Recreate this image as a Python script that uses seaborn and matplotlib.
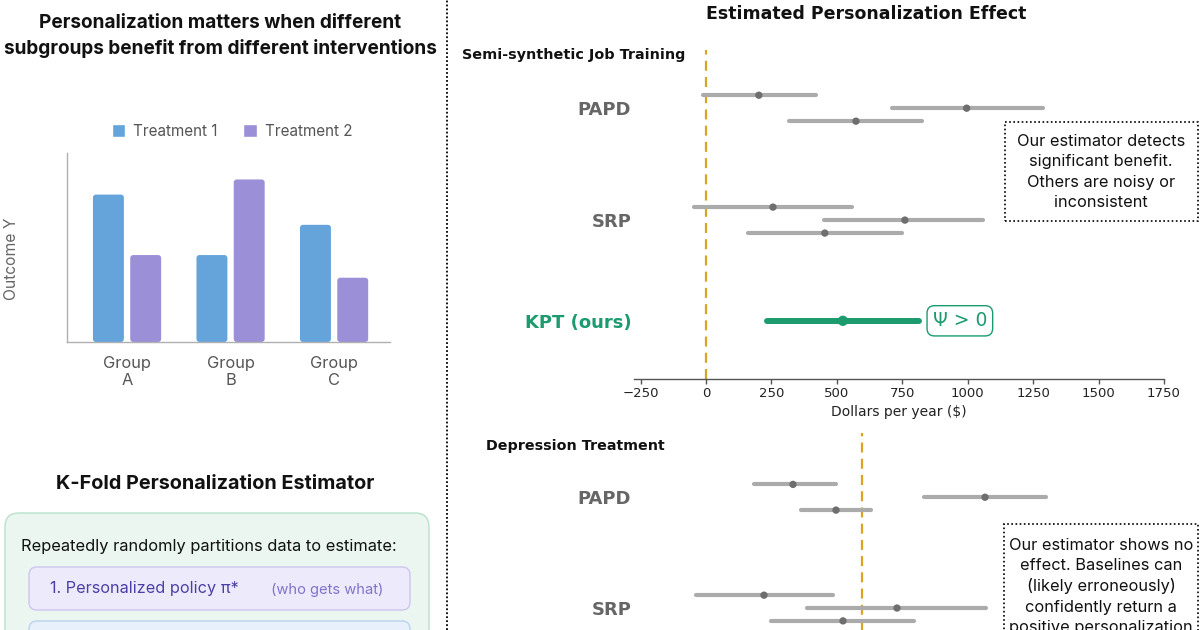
import numpy as np
import pandas as pd
import seaborn as sns
import matplotlib.pyplot as plt
from matplotlib.patches import FancyBboxPatch, Rectangle
from matplotlib.lines import Line2D

# left panel: toy outcome per subgroup
groups = ["Group\nA", "Group\nB", "Group\nC"]
treatments = ["Treatment 1", "Treatment 2"]
outcome_t1 = [7.8, 4.6, 6.2]
outcome_t2 = [4.6, 8.6, 3.4]

methods = ["PAPD", "SRP", "KPT (ours)"]

# semi-synthetic job training, dollars per year (3 runs per baseline)
job_papd_lo = [-10, 710, 317]
job_papd_est = [202, 996, 573]
job_papd_hi = [420, 1286, 824]
job_srp_lo = [-46, 450, 160]
job_srp_est = [256, 760, 454]
job_srp_hi = [557, 1057, 748]
job_kpt_lo = [233]
job_kpt_est = [523]
job_kpt_hi = [813]

# depression treatment (effect units), only the baselines are in view
dep_papd_lo = [-1.08, 0.62, -0.61]
dep_papd_est = [-0.69, 1.23, -0.26]
dep_papd_hi = [-0.26, 1.84, 0.09]
dep_srp_lo = [-1.66, -0.55, -0.91]
dep_srp_est = [-0.98, 0.35, -0.19]
dep_srp_hi = [-0.29, 1.24, 0.52]

BLUE = "#65A4DB"
PURPLE = "#9B8FD8"
GREEN = "#1B9B6E"
GRAY_LINE = "#ABABAB"
GRAY_DOT = "#6E6E6E"
GOLD = "#D9A520"

sns.set_theme(style="white")
plt.rcParams["font.family"] = ["DejaVu Sans"]

fig = plt.figure(figsize=(12, 6.3), dpi=100)

# background axes in pixel coords for the decorative boxes
ax_bg = fig.add_axes([0, 0, 1, 1], zorder=-1)
ax_bg.set_xlim(0, 1200)
ax_bg.set_ylim(630, 0)
ax_bg.axis("off")

# ---- bar chart
bar_df = pd.DataFrame({
    "group": groups * 2,
    "treatment": [treatments[0]] * 3 + [treatments[1]] * 3,
    "outcome": outcome_t1 + outcome_t2,
})
ax_bar = fig.add_axes([67 / 1200, 1 - 342 / 630, 323 / 1200, 189 / 630])
ax_bar.set_facecolor("none")
sns.barplot(data=bar_df, x="group", y="outcome", hue="treatment",
            palette=[BLUE, PURPLE], width=0.72, gap=0.17, saturation=1,
            ax=ax_bar)
ax_bar.set_xlim(-0.58, 2.54)
ax_bar.set_ylim(0, 10)
ax_bar.set_yticks([])
ax_bar.set_xlabel("")
ax_bar.set_ylabel("Outcome Y", family="Inter", fontsize=11.3, color="#666666")
ax_bar.yaxis.set_label_coords(-0.15, 0.44)
sns.despine(ax=ax_bar)
for sp in ["left", "bottom"]:
    ax_bar.spines[sp].set_color("#B0B0B0")
    ax_bar.spines[sp].set_linewidth(1)
ax_bar.tick_params(axis="x", length=0, pad=10, labelsize=11.8, labelcolor="#555555")
for lbl in ax_bar.get_xticklabels():
    lbl.set_family("Inter")
ax_bar.legend(loc="center", bbox_to_anchor=(232 / 1200, 1 - 131 / 630),
              bbox_transform=fig.transFigure, ncol=2, frameon=False,
              prop={"family": "Inter", "size": 11}, labelcolor="#555555",
              handlelength=0.9, handleheight=0.9, handletextpad=0.5,
              columnspacing=1.7)

# swap the square bars for slightly rounded ones (about 3 px radius)
r_x = 3 / 103.5
r_aspect = (3 / 18.9) / r_x
for p in list(ax_bar.patches):
    if p.get_height() <= 0:
        continue
    ax_bar.add_patch(FancyBboxPatch((p.get_x(), p.get_y()), p.get_width(), p.get_height(),
                                    boxstyle=f"round,pad=0,rounding_size={r_x}",
                                    mutation_aspect=r_aspect, fc=p.get_facecolor(),
                                    ec="none", zorder=2))
    p.set_visible(False)

ax_bg.text(220, 36, "Personalization matters when different\nsubgroups benefit from different interventions",
           ha="center", va="center", family="Inter", weight="bold", fontsize=13.7,
           linespacing=1.42, color="#111111")

# ---- K-fold estimator boxes
ax_bg.text(215, 484, "K-Fold Personalization Estimator", ha="center", va="center",
           family="Inter", weight="bold", fontsize=14.3, color="#111111")
ax_bg.add_patch(FancyBboxPatch((5, 513), 424, 200, boxstyle="round,pad=0,rounding_size=14",
                               fc="#EAF6EF", ec="#B9E0CB", lw=1))
ax_bg.text(21, 547, "Repeatedly randomly partitions data to estimate:", va="center",
           family="Inter", fontsize=11.8, color="#111111")
ax_bg.add_patch(FancyBboxPatch((29, 567), 381, 43, boxstyle="round,pad=0,rounding_size=8",
                               fc="#EDEBFB", ec="#CCC6F0", lw=1))
ax_bg.text(50, 589, "1. Personalized policy π*", va="center", family="Inter",
           fontsize=11.7, color="#4B3FA6")
ax_bg.text(271, 590, "(who gets what)", va="center", family="Inter",
           fontsize=10.6, color="#8073CC")
ax_bg.add_patch(FancyBboxPatch((29, 621), 381, 43, boxstyle="round,pad=0,rounding_size=8",
                               fc="#E7F0FB", ec="#BBD3EF", lw=1))

# divider
fig.add_artist(Line2D([447 / 1200] * 2, [0, 1], transform=fig.transFigure,
                      color="black", lw=1.3, ls=(0, (1, 1.2))))


def forest_frame(lo_lists, est_lists, hi_lists):
    rows = []
    centers = [0, 1, 1.9]
    for m, lo, est, hi, c in zip(methods, lo_lists, est_lists, hi_lists, centers):
        n = len(est)
        offs = np.linspace(-0.116, 0.116, n) if n > 1 else [0.0]
        for l, e, h, o in zip(lo, est, hi, offs):
            rows.append({"method": m, "lo": l, "est": e, "hi": h, "row": c + o})
    return pd.DataFrame(rows)


def draw_forest(ax, df):
    base = df[df.method != "KPT (ours)"]
    ours = df[df.method == "KPT (ours)"]
    lc = ax.hlines(base.row, base.lo, base.hi, color=GRAY_LINE, lw=3)
    lc.set_capstyle("round")
    sns.scatterplot(data=base, x="est", y="row", color=GRAY_DOT, s=28,
                    edgecolor="none", ax=ax, zorder=3)
    if len(ours):
        lc2 = ax.hlines(ours.row, ours.lo, ours.hi, color=GREEN, lw=4.3)
        lc2.set_capstyle("round")
        sns.scatterplot(data=ours, x="est", y="row", color=GREEN, s=55,
                        edgecolor="none", ax=ax, zorder=3)
    ax.axvline(0, color=GOLD, lw=1.6, ls=(0, (4.5, 2.8)), zorder=1)
    ax.set_facecolor("none")
    ax.set_xlabel("")
    ax.set_ylabel("")
    shown = list(df.method.unique())
    ax.set_yticks([0, 1, 1.9][:len(shown)])
    ax.set_yticklabels(shown)
    ax.tick_params(axis="y", length=0, pad=2, labelsize=13)
    for lbl, col in zip(ax.get_yticklabels(), ["#666666", "#666666", GREEN]):
        lbl.set_color(col)
        lbl.set_fontweight("bold")
    for sp in ["left", "right", "top"]:
        ax.spines[sp].set_visible(False)


# ---- job training
job_df = forest_frame([job_papd_lo, job_srp_lo, job_kpt_lo],
                      [job_papd_est, job_srp_est, job_kpt_est],
                      [job_papd_hi, job_srp_hi, job_kpt_hi])
ax_job = fig.add_axes([634 / 1200, 1 - 379 / 630, 530 / 1200, 329 / 630])
draw_forest(ax_job, job_df)
ax_job.set_xlim(-275, 1748)
ax_job.set_ylim(2.42, -0.52)
ax_job.set_xticks(range(-250, 1751, 250))
ax_job.spines["bottom"].set_color("#555555")
ax_job.spines["bottom"].set_linewidth(1)
ax_job.tick_params(axis="x", bottom=True, length=3.5, width=1, color="#555555",
                   labelsize=9.5, labelcolor="#222222", pad=2.5)
ax_job.set_xlabel("Dollars per year ($)", fontsize=10, color="#222222", labelpad=3.5)
ax_job.text(970, 1.9, "Ψ > 0", ha="center", va="center", color=GREEN, fontsize=13.5,
            bbox=dict(boxstyle="round,pad=0.3,rounding_size=0.4", fc="white", ec=GREEN, lw=1))

# ---- depression treatment
dep_df = forest_frame([dep_papd_lo, dep_srp_lo],
                      [dep_papd_est, dep_srp_est],
                      [dep_papd_hi, dep_srp_hi])
ax_dep = fig.add_axes([634 / 1200, 1 - 762 / 630, 530 / 1200, 329 / 630])
draw_forest(ax_dep, dep_df)
ax_dep.set_xlim(-2.28, 3.02)
ax_dep.set_ylim(2.39, -0.58)
ax_dep.set_xticks([])
ax_dep.spines["bottom"].set_visible(False)

# titles and notes
fig.text(866 / 1200, 1 - 14 / 630, "Estimated Personalization Effect", ha="center", va="center",
         weight="bold", fontsize=12.5, color="#111111")
fig.text(462 / 1200, 1 - 55 / 630, "Semi-synthetic Job Training", ha="left", va="center",
         weight="bold", fontsize=10.4, color="#111111")
fig.text(486 / 1200, 1 - 446 / 630, "Depression Treatment", ha="left", va="center",
         weight="bold", fontsize=10.3, color="#111111")

note_style = dict(fc="white", ec="black", lw=1.2, ls=(0, (1, 1.5)), zorder=4)
fig.add_artist(Rectangle((1005 / 1200, 1 - 221 / 630), 193 / 1200, 99 / 630,
                         transform=fig.transFigure, **note_style))
fig.text(1101 / 1200, 1 - 172 / 630,
         "Our estimator detects\nsignificant benefit.\nOthers are noisy or\ninconsistent",
         ha="center", va="center", family="Inter", fontsize=11.8, linespacing=1.42,
         color="#111111", zorder=5)
fig.add_artist(Rectangle((1004 / 1200, 1 - 720 / 630), 194 / 1200, 196 / 630,
                         transform=fig.transFigure, **note_style))
fig.text(1101 / 1200, 1 - 538 / 630,
         "Our estimator shows no\neffect. Baselines can\n(likely erroneously)\nconfidently return a\npositive personalization",
         ha="center", va="top", family="Inter", fontsize=11.8, linespacing=1.42,
         color="#111111", zorder=5)

fig.savefig("out.png", dpi=100)
